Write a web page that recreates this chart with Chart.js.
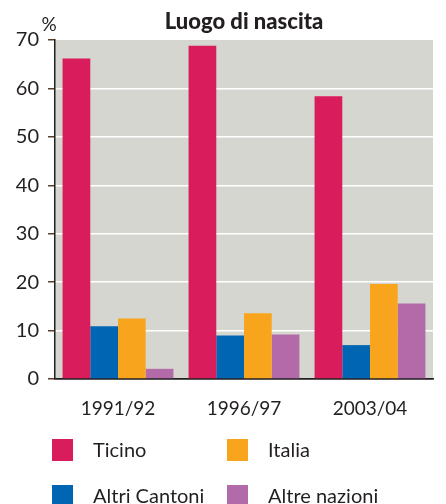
<!DOCTYPE html>
<html>
<head>
<meta charset="utf-8">
<script src="https://cdn.jsdelivr.net/npm/chart.js@4"></script>
<style>
  html, body { margin: 0; padding: 0; background: #fff; }
  #wrap { width: 446px; height: 504px; }
</style>
</head>
<body>
<div id="wrap"><canvas id="myChart" width="446" height="504"></canvas></div>
<script>
const categories = ['1991/92', '1996/97', '2003/04'];
const ticino = [66.2, 68.8, 58.4];
const altriCantoni = [10.9, 9.0, 7.0];
const italia = [12.5, 13.6, 19.6];
const altreNazioni = [2.1, 9.2, 15.6];
const seriesNames = ['Ticino', 'Altri Cantoni', 'Italia', 'Altre nazioni'];
const seriesColors = ['#d81c5c', '#0066b3', '#f8a51d', '#b36aa8'];
const yTicks = [0, 10, 20, 30, 40, 50, 60, 70];

const FONT = 'Lato, "Open Sans", sans-serif';
const INK = '#231f20';

// grey plot background plus title, unit label and the 2x2 legend
const decor = {
  id: 'decor',
  beforeDraw(chart) {
    const { ctx, chartArea: a } = chart;
    ctx.save();
    ctx.fillStyle = '#d6d6d0';
    ctx.fillRect(a.left, a.top, a.right - a.left, a.bottom - a.top);
    ctx.restore();
  },
  afterDraw(chart) {
    const { ctx, chartArea: a } = chart;
    ctx.save();
    ctx.fillStyle = INK;
    ctx.textBaseline = 'middle';
    ctx.textAlign = 'center';
    ctx.font = '900 22px ' + FONT;
    ctx.fillText('Luogo di nascita', (a.left + a.right) / 2, 22);
    ctx.font = '19px ' + FONT;
    ctx.fillText('%', 49, 25);

    const spots = [[52, 439], [52, 485], [227, 439], [227, 485]];
    ctx.textAlign = 'left';
    ctx.font = '20px ' + FONT;
    chart.data.datasets.forEach((ds, i) => {
      const [x, y] = spots[i];
      ctx.fillStyle = ds.backgroundColor;
      ctx.fillRect(x, y, 21, 22);
      ctx.fillStyle = INK;
      ctx.fillText(ds.label, x + 41, y + 12);
    });
    ctx.restore();
  }
};

const seriesData = [ticino, altriCantoni, italia, altreNazioni];

new Chart(document.getElementById('myChart'), {
  type: 'bar',
  data: {
    labels: categories,
    datasets: seriesNames.map((name, i) => ({
      label: name,
      data: seriesData[i],
      backgroundColor: seriesColors[i],
      borderWidth: 0,
      categoryPercentage: 0.88,
      barPercentage: 1.0
    }))
  },
  options: {
    responsive: false,
    animation: false,
    layout: { padding: { left: 0, right: 13, top: 40, bottom: 85 } },
    plugins: { legend: { display: false }, title: { display: false }, tooltip: { enabled: false } },
    scales: {
      x: {
        afterFit(scale) { scale.height = 40; },
        grid: { display: false },
        border: { display: true, color: INK, width: 1.5 },
        ticks: { color: INK, font: { family: FONT, size: 19 }, padding: 10 }
      },
      y: {
        min: 0,
        max: 70,
        afterFit(scale) { scale.width = 55; },
        afterBuildTicks(scale) { scale.ticks = yTicks.map(v => ({ value: v })); },
        grid: {
          color: ctx => ctx.tick && ctx.tick.value === 0 ? INK : (ctx.tick && ctx.tick.value === 70 ? 'rgba(0,0,0,0)' : '#ffffff'),
          lineWidth: 1.5,
          tickColor: '#5a3e2b',
          tickLength: 7
        },
        border: { display: true, color: INK, width: 1.5 },
        ticks: { color: INK, font: { family: FONT, size: 20 }, padding: 9 }
      }
    }
  },
  plugins: [decor]
});
</script>
</body>
</html>
